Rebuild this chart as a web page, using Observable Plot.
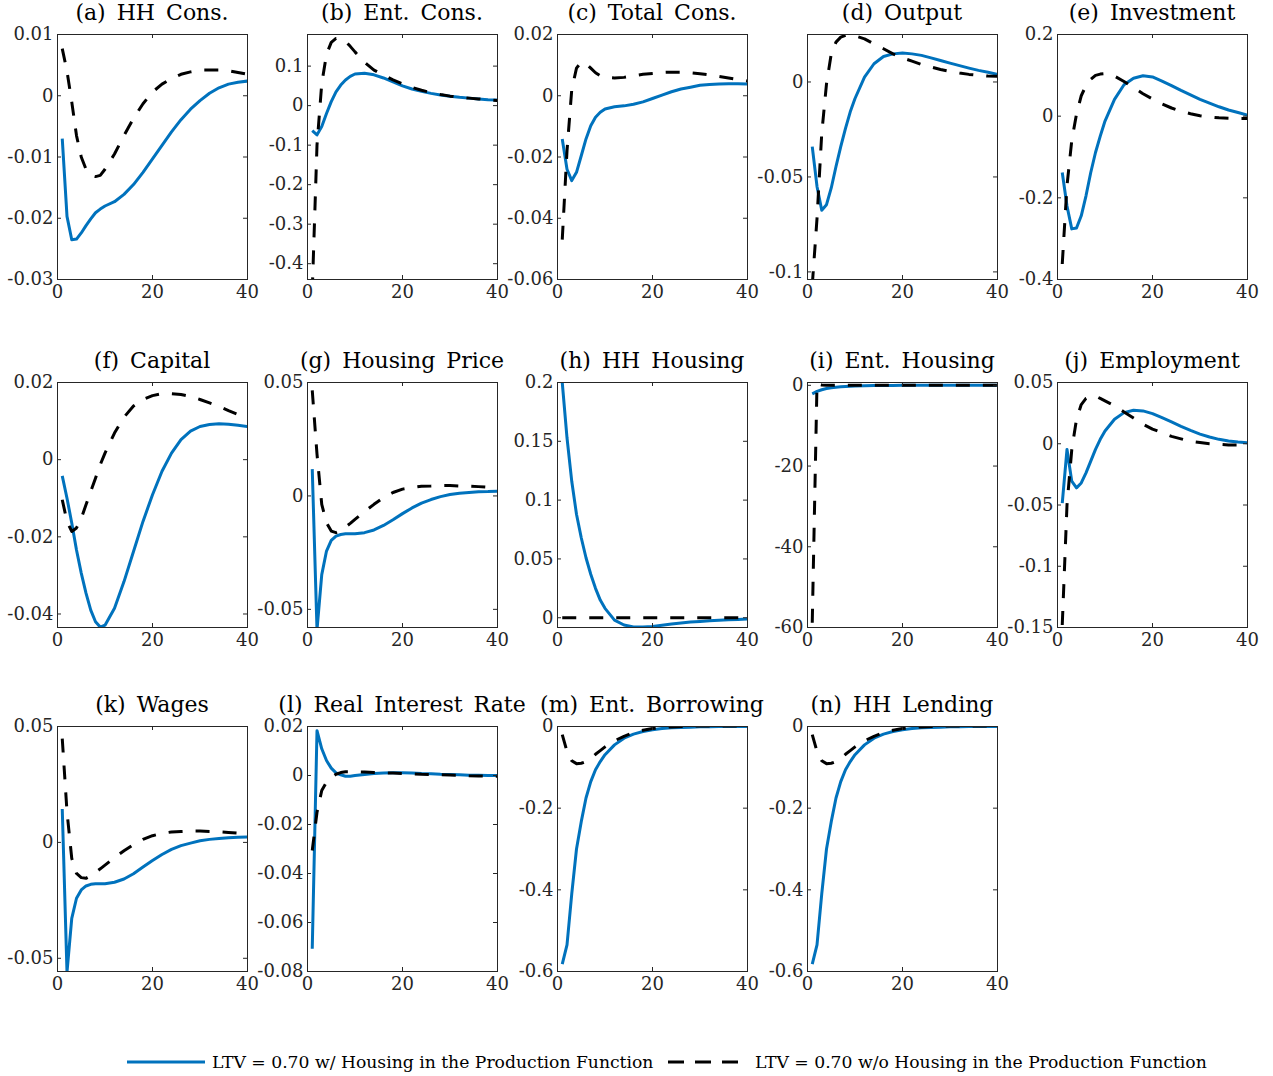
<!DOCTYPE html>
<html><head><meta charset="utf-8">
<script src="https://cdn.jsdelivr.net/npm/d3@7"></script>
<script src="https://cdn.jsdelivr.net/npm/@observablehq/plot@0.6"></script>
<style>
body{margin:0;background:#fff;}
#root{position:relative;width:1273px;height:1076px;font-family:"DejaVu Serif",serif;overflow:hidden;}
.title{position:absolute;width:400px;text-align:center;font-size:22px;line-height:26px;word-spacing:4px;color:#000;white-space:nowrap;}
.panel{position:absolute;}
.legend{position:absolute;font-size:17.2px;line-height:20px;color:#000;white-space:nowrap;}
</style></head><body><div id="root"></div>
<script>
// Horizon (quarters) at which values were read
const periods = [1,2,3,4,5,6,7,8,9,10,12,14,16,18,20,22,24,26,28,30,32,34,36,38,40];
const xTicks = [0, 20, 40];
const titles = ["(a) HH Cons.", "(b) Ent. Cons.", "(c) Total Cons.", "(d) Output", "(e) Investment",
  "(f) Capital", "(g) Housing Price", "(h) HH Housing", "(i) Ent. Housing", "(j) Employment",
  "(k) Wages", "(l) Real Interest Rate", "(m) Ent. Borrowing", "(n) HH Lending"];
const legendLabels = ["LTV = 0.70 w/ Housing in the Production Function", "LTV = 0.70 w/o Housing in the Production Function"];

// (a) HH Cons.
const hhConsWith = [-0.007,-0.0197,-0.0235,-0.0234,-0.0224,-0.0212,-0.0201,-0.0191,-0.0185,-0.018,-0.0173,-0.0161,-0.0145,-0.0125,-0.0103,-0.0081,-0.0059,-0.0039,-0.0022,-0.0008,0.0004,0.0013,0.0019,0.0022,0.0024];
const hhConsWithout = [0.0077,0.004,-0.001,-0.0065,-0.0100,-0.012,-0.013,-0.0132,-0.013,-0.012,-0.0095,-0.0065,-0.0037,-0.0013,0.0006,0.0019,0.0028,0.0035,0.0039,0.0042,0.0042,0.0042,0.0041,0.0038,0.0035];
const ticksA = [-0.03,-0.02,-0.01,0,0.01], domainA = [-0.03,0.01];
// (b) Ent. Cons.
const entConsWith = [-0.063,-0.074,-0.053,-0.02,0.01,0.035,0.052,0.065,0.074,0.08,0.082,0.078,0.07,0.06,0.05,0.042,0.036,0.031,0.027,0.024,0.021,0.019,0.017,0.015,0.014];
const entConsWithout = [-0.47,-0.1,0.056,0.13,0.16,0.17,0.17,0.163,0.15,0.136,0.11,0.09,0.077,0.065,0.055,0.046,0.039,0.033,0.028,0.024,0.021,0.019,0.017,0.015,0.013];
const ticksB = [-0.4,-0.3,-0.2,-0.1,0,0.1], domainB = [-0.44,0.18];
// (c) Total Cons.
const totConsWith = [-0.0141,-0.024,-0.0277,-0.025,-0.0196,-0.0141,-0.0098,-0.007,-0.0054,-0.0043,-0.0036,-0.0033,-0.0028,-0.002,-0.0009,0.0002,0.0013,0.0022,0.0028,0.0034,0.0037,0.0038,0.0039,0.0039,0.0038];
const totConsWithout = [-0.047,-0.018,0.002,0.009,0.011,0.0105,0.009,0.0075,0.0065,0.006,0.0058,0.006,0.0065,0.007,0.0073,0.0076,0.0077,0.0077,0.0075,0.0072,0.0068,0.0063,0.0058,0.0053,0.0048];
const ticksC = [-0.06,-0.04,-0.02,0,0.02], domainC = [-0.06,0.02];
// (d) Output
const outputWith = [-0.034,-0.055,-0.0675,-0.0646,-0.0558,-0.0445,-0.034,-0.0244,-0.0157,-0.0087,0.0026,0.0096,0.0134,0.0148,0.0152,0.0148,0.014,0.0127,0.0113,0.0099,0.0086,0.0073,0.0061,0.0051,0.004];
const outputWithout = [-0.107,-0.072,-0.027,-0.001,0.0148,0.021,0.0236,0.0246,0.0248,0.0243,0.0227,0.02,0.0175,0.0148,0.0127,0.011,0.0092,0.0079,0.0066,0.0056,0.0047,0.004,0.0035,0.0031,0.003];
const ticksD = [-0.1,-0.05,0], domainD = [-0.104,0.025];
// (e) Investment
const invWith = [-0.138,-0.22,-0.276,-0.274,-0.244,-0.195,-0.138,-0.089,-0.049,-0.012,0.041,0.077,0.093,0.099,0.096,0.086,0.075,0.063,0.052,0.041,0.032,0.023,0.015,0.009,0.0025];
const invWithout = [-0.362,-0.17,-0.06,0.005,0.05,0.075,0.09,0.1,0.103,0.104,0.098,0.085,0.07,0.055,0.042,0.03,0.02,0.012,0.006,0.001,-0.002,-0.004,-0.005,-0.006,-0.006];
const ticksE = [-0.4,-0.2,0,0.2], domainE = [-0.4,0.2];
// (f) Capital
const capWith = [-0.0042,-0.01,-0.0164,-0.0234,-0.0294,-0.0346,-0.039,-0.042,-0.0434,-0.0429,-0.0385,-0.0316,-0.0238,-0.016,-0.0091,-0.003,0.0017,0.0052,0.0074,0.0086,0.0091,0.0093,0.0092,0.0089,0.0086];
const capWithout = [-0.0104,-0.016,-0.0186,-0.0177,-0.0152,-0.0117,-0.0082,-0.0048,-0.0013,0.0017,0.0069,0.011,0.0139,0.0156,0.0166,0.0171,0.0171,0.0169,0.0164,0.0156,0.0147,0.0138,0.0127,0.0117,0.0106];
const ticksF = [-0.04,-0.02,0,0.02], domainF = [-0.0435,0.02];
// (g) Housing Price
const hpWith = [0.0118,-0.059,-0.0347,-0.0243,-0.0196,-0.0177,-0.017,-0.0167,-0.0167,-0.0167,-0.0162,-0.015,-0.013,-0.0105,-0.0078,-0.0053,-0.0032,-0.0016,-0.0003,0.0006,0.0012,0.0015,0.0018,0.0019,0.0021];
const hpWithout = [0.0465,0.0184,-0.0037,-0.0118,-0.0155,-0.0162,-0.0152,-0.0137,-0.0121,-0.0103,-0.0069,-0.0037,-0.0007,0.0015,0.003,0.0037,0.0043,0.0044,0.0046,0.0046,0.0044,0.0043,0.0041,0.0038,0.0037];
const ticksG = [-0.05,0,0.05], domainG = [-0.058,0.05];
// (h) HH Housing
const hhHouseWith = [0.2,0.153,0.116,0.088,0.068,0.051,0.037,0.025,0.015,0.008,-0.002,-0.0062,-0.0078,-0.0079,-0.0074,-0.0064,-0.0054,-0.0045,-0.0037,-0.0031,-0.0026,-0.0021,-0.0017,-0.0014,-0.0011];
const hhHouseWithout = [0,0,0,0,0,0,0,0,0,0,0,0,0,0,0,0,0,0,0,0,0,0,0,0,0];
const ticksH = [0,0.05,0.1,0.15,0.2], domainH = [-0.0083,0.2];
// (i) Ent. Housing
const entHouseWith = [-2.1,-1.5,-1.1,-0.8,-0.58,-0.45,-0.35,-0.27,-0.2,-0.15,-0.09,-0.05,-0.03,-0.02,-0.01,0,0,0,0,0,0,0,0,0,0];
const entHouseWithout = [-58.8,0.4,0.1,0,0,0,0,0,0,0,0,0,0,0,0,0,0,0,0,0,0,0,0,0,0];
const ticksI = [-60,-40,-20,0], domainI = [-60,0.7];
// (j) Employment
const empWith = [-0.0484,-0.0046,-0.0306,-0.036,-0.032,-0.0238,-0.0142,-0.0046,0.0036,0.0104,0.02,0.0254,0.0273,0.0268,0.0246,0.0213,0.0178,0.0142,0.0109,0.0079,0.0055,0.0036,0.0022,0.0014,0.0008];
const empWithout = [-0.148,-0.05,-0.005,0.02,0.032,0.037,0.039,0.039,0.037,0.035,0.031,0.026,0.021,0.016,0.012,0.009,0.006,0.004,0.002,0.001,0,-0.0005,-0.001,-0.001,-0.001];
const ticksJ = [-0.15,-0.1,-0.05,0,0.05], domainJ = [-0.15,0.05];
// (k) Wages
const wageWith = [0.0144,-0.056,-0.0328,-0.0241,-0.0205,-0.0188,-0.0181,-0.0178,-0.0178,-0.0178,-0.0172,-0.0158,-0.0135,-0.0106,-0.0078,-0.0052,-0.003,-0.0014,-0.0003,0.0007,0.0013,0.0017,0.002,0.0022,0.0023];
const wageWithout = [0.0448,0.0132,-0.0069,-0.0134,-0.0152,-0.0155,-0.0144,-0.0129,-0.0114,-0.0098,-0.0066,-0.0036,-0.0009,0.0013,0.0029,0.0039,0.0045,0.0047,0.0049,0.0049,0.0047,0.0046,0.0043,0.004,0.0037];
const ticksK = [-0.05,0,0.05], domainK = [-0.0557,0.05];
// (l) Real Interest Rate
const rateWith = [-0.0707,0.0183,0.0109,0.0061,0.003,0.0011,0.0003,-0.0003,-0.0003,0,0.0004,0.0008,0.001,0.0011,0.0011,0.001,0.0008,0.0007,0.0005,0.0004,0.0003,0.0001,0.0001,0,0];
const rateWithout = [-0.0306,-0.015,-0.0061,-0.0027,-0.0008,0.0005,0.0012,0.0015,0.0015,0.0015,0.0014,0.0012,0.0011,0.001,0.0008,0.0007,0.0005,0.0004,0.0003,0.0002,0.0001,-0.0001,-0.0002,-0.0003,-0.0003];
const ticksL = [-0.08,-0.06,-0.04,-0.02,0,0.02], domainL = [-0.08,0.02];
// (m) Ent. Borrowing
const borrowWith = [-0.582,-0.535,-0.41,-0.3,-0.233,-0.175,-0.135,-0.106,-0.086,-0.069,-0.045,-0.0286,-0.0188,-0.0122,-0.0082,-0.0049,-0.0033,-0.0024,-0.0016,-0.0008,-0.0005,-0.0003,-0.0002,-0.0001,0];
const borrowWithout = [-0.02,-0.061,-0.084,-0.091,-0.09,-0.086,-0.078,-0.068,-0.059,-0.05,-0.035,-0.024,-0.015,-0.009,-0.005,-0.0025,-0.001,0,0.0008,0.0015,0.0015,0.0015,0.0015,0.0015,0.001];
const ticksM = [-0.6,-0.4,-0.2,0], domainM = [-0.6,0];
// (n) HH Lending
const lendWith = [-0.582,-0.535,-0.41,-0.3,-0.233,-0.175,-0.135,-0.106,-0.086,-0.069,-0.045,-0.0286,-0.0188,-0.0122,-0.0082,-0.0049,-0.0033,-0.0024,-0.0016,-0.0008,-0.0005,-0.0003,-0.0002,-0.0001,0];
const lendWithout = [-0.02,-0.061,-0.084,-0.091,-0.09,-0.086,-0.078,-0.068,-0.059,-0.05,-0.035,-0.024,-0.015,-0.009,-0.005,-0.0025,-0.001,0,0.0008,0.0015,0.0015,0.0015,0.0015,0.0015,0.001];
const ticksN = [-0.6,-0.4,-0.2,0], domainN = [-0.6,0];

const panels = [
  {w: hhConsWith, wo: hhConsWithout, ticks: ticksA, domain: domainA},
  {w: entConsWith, wo: entConsWithout, ticks: ticksB, domain: domainB},
  {w: totConsWith, wo: totConsWithout, ticks: ticksC, domain: domainC},
  {w: outputWith, wo: outputWithout, ticks: ticksD, domain: domainD},
  {w: invWith, wo: invWithout, ticks: ticksE, domain: domainE},
  {w: capWith, wo: capWithout, ticks: ticksF, domain: domainF},
  {w: hpWith, wo: hpWithout, ticks: ticksG, domain: domainG},
  {w: hhHouseWith, wo: hhHouseWithout, ticks: ticksH, domain: domainH},
  {w: entHouseWith, wo: entHouseWithout, ticks: ticksI, domain: domainI},
  {w: empWith, wo: empWithout, ticks: ticksJ, domain: domainJ},
  {w: wageWith, wo: wageWithout, ticks: ticksK, domain: domainK},
  {w: rateWith, wo: rateWithout, ticks: ticksL, domain: domainL},
  {w: borrowWith, wo: borrowWithout, ticks: ticksM, domain: domainM},
  {w: lendWith, wo: lendWithout, ticks: ticksN, domain: domainN}
];

const BLUE = "#0072BD", AXIS = "#262626";
const plotTops = [34, 382, 726];
const innerH = 245, innerW = 190, mTop = 10, mBottom = 32, mLeft = 57, mRight = 3;
const root = document.getElementById("root");

panels.forEach((p, i) => {
  const row = Math.floor(i / 5), col = i % 5;
  const rows = periods.map((t, k) => ({t, w: p.w[k], wo: p.wo[k]}));
  const [d0, d1] = p.domain;
  const tlY = (d1 - d0) * 4 / innerH;
  const tlX = 40 * 4 / innerW;
  const chart = Plot.plot({
    width: mLeft + innerW + mRight, height: mTop + innerH + mBottom,
    marginLeft: mLeft, marginRight: mRight, marginTop: mTop, marginBottom: mBottom,
    style: {fontFamily: '"DejaVu Serif", serif', fontSize: "18px", color: AXIS, overflow: "visible", background: "transparent"},
    x: {domain: [0, 40]},
    y: {domain: p.domain},
    marks: [
      Plot.line(rows, {x: "t", y: "w", stroke: BLUE, strokeWidth: 3, strokeLinecap: "butt", clip: true}),
      Plot.line(rows, {x: "t", y: "wo", stroke: "#000", strokeWidth: 3, strokeDasharray: "14,13", strokeLinecap: "butt", clip: true}),
      Plot.ruleY(p.ticks, {y: d => d, x1: 0, x2: tlX, stroke: AXIS}),
      Plot.ruleY(p.ticks, {y: d => d, x1: 40 - tlX, x2: 40, stroke: AXIS}),
      Plot.ruleX(xTicks, {x: d => d, y1: d0, y2: d0 + tlY, stroke: AXIS}),
      Plot.ruleX(xTicks, {x: d => d, y1: d1 - tlY, y2: d1, stroke: AXIS}),
      Plot.frame({stroke: AXIS, strokeWidth: 1}),
      Plot.axisY(p.ticks, {tickSize: 0, tickPadding: 4, tickFormat: d => String(d), label: null}),
      Plot.axisX(xTicks, {tickSize: 0, tickPadding: 6, tickFormat: d => String(d), label: null})
    ]
  });
  const holder = document.createElement("div");
  holder.className = "panel";
  holder.style.left = (col * 250) + "px";
  holder.style.top = (plotTops[row] - mTop) + "px";
  holder.appendChild(chart);
  root.appendChild(holder);

  const t = document.createElement("div");
  t.className = "title";
  t.textContent = titles[i];
  t.style.left = (col * 250 + mLeft + innerW / 2 - 200) + "px";
  t.style.top = (plotTops[row] - 34) + "px";
  root.appendChild(t);
});

// legend
const legendY = 1062;
const swatches = [
  {x0: 127, x1: 205, tx: 212, stroke: BLUE, dash: null},
  {x0: 668, x1: 747, tx: 755, stroke: "#000", dash: "16,11"}
];
swatches.forEach((s, i) => {
  const ns = "http://www.w3.org/2000/svg";
  const svg = document.createElementNS(ns, "svg");
  svg.setAttribute("width", s.x1 - s.x0);
  svg.setAttribute("height", 10);
  svg.style.position = "absolute";
  svg.style.left = s.x0 + "px";
  svg.style.top = (legendY - 5) + "px";
  const ln = document.createElementNS(ns, "line");
  ln.setAttribute("x1", 0); ln.setAttribute("x2", s.x1 - s.x0);
  ln.setAttribute("y1", 5); ln.setAttribute("y2", 5);
  ln.setAttribute("stroke", s.stroke); ln.setAttribute("stroke-width", 3);
  if (s.dash) ln.setAttribute("stroke-dasharray", s.dash);
  svg.appendChild(ln);
  root.appendChild(svg);
  const lab = document.createElement("div");
  lab.className = "legend";
  lab.textContent = legendLabels[i];
  lab.style.left = s.tx + "px";
  lab.style.top = (legendY - 10) + "px";
  root.appendChild(lab);
});
</script>
</body></html>
